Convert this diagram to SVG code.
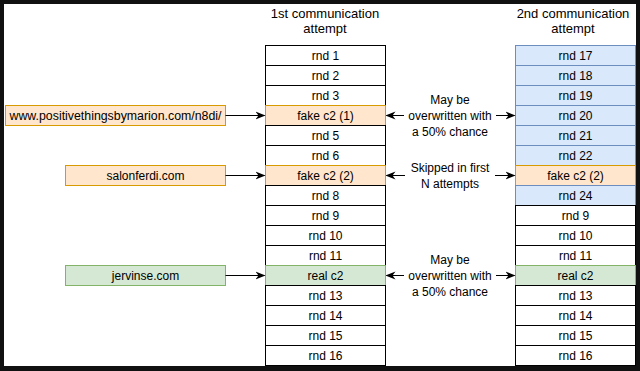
<svg xmlns="http://www.w3.org/2000/svg" width="640" height="371" viewBox="0 0 640 371">
<defs>
<marker id="ah" viewBox="0 0 10 10" refX="9" refY="5" markerWidth="10" markerHeight="10" markerUnits="userSpaceOnUse" orient="auto">
<path d="M0,1 L10,5 L0,9 L3,5 Z" fill="#000"/>
</marker>
<style>
text{font-family:"Liberation Sans",Arial,sans-serif;font-size:12px;fill:#000;text-anchor:middle}
.t{font-size:13px}
.w{fill:#fff;stroke:#000;stroke-width:1}
.o{fill:#ffe6cc;stroke:#d79b00;stroke-width:1}
.g{fill:#d5e8d4;stroke:#82b366;stroke-width:1}
.b{fill:#dae8fc;stroke:#6c8ebf;stroke-width:1}
.c{stroke:#000;stroke-width:1;fill:none;marker-end:url(#ah)}
</style>
</defs>
<rect x="0" y="0" width="640" height="371" fill="#111"/>
<rect x="4" y="4" width="632" height="362" fill="#fff"/>
<g id="titles">
<text class="t" x="325" y="17.5">1st communication</text>
<text class="t" x="325" y="32.5">attempt</text>
<text class="t" x="573" y="17.5">2nd communication</text>
<text class="t" x="573" y="32.5">attempt</text>
</g>
<g id="col1">
<rect class="w" x="265.5" y="45.5" width="120" height="20"/><text x="325.5" y="60">rnd 1</text>
<rect class="w" x="265.5" y="65.5" width="120" height="20"/><text x="325.5" y="80">rnd 2</text>
<rect class="w" x="265.5" y="85.5" width="120" height="20"/><text x="325.5" y="100">rnd 3</text>
<rect class="o" x="265.5" y="105.5" width="120" height="20"/><text x="325.5" y="120">fake c2 (1)</text>
<rect class="w" x="265.5" y="125.5" width="120" height="20"/><text x="325.5" y="140">rnd 5</text>
<rect class="w" x="265.5" y="145.5" width="120" height="20"/><text x="325.5" y="160">rnd 6</text>
<rect class="o" x="265.5" y="165.5" width="120" height="20"/><text x="325.5" y="180">fake c2 (2)</text>
<rect class="w" x="265.5" y="185.5" width="120" height="20"/><text x="325.5" y="200">rnd 8</text>
<rect class="w" x="265.5" y="205.5" width="120" height="20"/><text x="325.5" y="220">rnd 9</text>
<rect class="w" x="265.5" y="225.5" width="120" height="20"/><text x="325.5" y="240">rnd 10</text>
<rect class="w" x="265.5" y="245.5" width="120" height="20"/><text x="325.5" y="260">rnd 11</text>
<rect class="g" x="265.5" y="265.5" width="120" height="20"/><text x="325.5" y="280">real c2</text>
<rect class="w" x="265.5" y="285.5" width="120" height="20"/><text x="325.5" y="300">rnd 13</text>
<rect class="w" x="265.5" y="305.5" width="120" height="20"/><text x="325.5" y="320">rnd 14</text>
<rect class="w" x="265.5" y="325.5" width="120" height="20"/><text x="325.5" y="340">rnd 15</text>
<rect class="w" x="265.5" y="345.5" width="120" height="20"/><text x="325.5" y="360">rnd 16</text>
</g>
<g id="col2">
<rect class="b" x="515.5" y="45.5" width="120" height="20"/><text x="575.5" y="60">rnd 17</text>
<rect class="b" x="515.5" y="65.5" width="120" height="20"/><text x="575.5" y="80">rnd 18</text>
<rect class="b" x="515.5" y="85.5" width="120" height="20"/><text x="575.5" y="100">rnd 19</text>
<rect class="b" x="515.5" y="105.5" width="120" height="20"/><text x="575.5" y="120">rnd 20</text>
<rect class="b" x="515.5" y="125.5" width="120" height="20"/><text x="575.5" y="140">rnd 21</text>
<rect class="b" x="515.5" y="145.5" width="120" height="20"/><text x="575.5" y="160">rnd 22</text>
<rect class="o" x="515.5" y="165.5" width="120" height="20"/><text x="575.5" y="180">fake c2 (2)</text>
<rect class="b" x="515.5" y="185.5" width="120" height="20"/><text x="575.5" y="200">rnd 24</text>
<rect class="w" x="515.5" y="205.5" width="120" height="20"/><text x="575.5" y="220">rnd 9</text>
<rect class="w" x="515.5" y="225.5" width="120" height="20"/><text x="575.5" y="240">rnd 10</text>
<rect class="w" x="515.5" y="245.5" width="120" height="20"/><text x="575.5" y="260">rnd 11</text>
<rect class="g" x="515.5" y="265.5" width="120" height="20"/><text x="575.5" y="280">real c2</text>
<rect class="w" x="515.5" y="285.5" width="120" height="20"/><text x="575.5" y="300">rnd 13</text>
<rect class="w" x="515.5" y="305.5" width="120" height="20"/><text x="575.5" y="320">rnd 14</text>
<rect class="w" x="515.5" y="325.5" width="120" height="20"/><text x="575.5" y="340">rnd 15</text>
<rect class="w" x="515.5" y="345.5" width="120" height="20"/><text x="575.5" y="360">rnd 16</text>
</g>
<g id="src1"><rect class="o" x="5.5" y="105.5" width="220" height="20"/><text x="115.5" y="120" textLength="212" lengthAdjust="spacingAndGlyphs">www.positivethingsbymarion.com/n8di/</text></g>
<g id="src2"><rect class="o" x="65.5" y="165.5" width="160" height="20"/><text x="145.5" y="180">salonferdi.com</text></g>
<g id="src3"><rect class="g" x="65.5" y="265.5" width="160" height="20"/><text x="145.5" y="280">jervinse.com</text></g>
<g id="labels">
<text x="450" y="104">May be</text>
<text x="450" y="120">overwritten with</text>
<text x="450" y="136">a 50% chance</text>
<text x="450" y="172">Skipped in first</text>
<text x="450" y="188">N attempts</text>
<text x="450" y="264">May be</text>
<text x="450" y="280">overwritten with</text>
<text x="450" y="296">a 50% chance</text>
</g>
<g id="connectors">
<line class="c" x1="225.5" y1="115.5" x2="264.5" y2="115.5"/>
<line class="c" x1="225.5" y1="175.5" x2="264.5" y2="175.5"/>
<line class="c" x1="225.5" y1="275.5" x2="264.5" y2="275.5"/>
<line class="c" x1="404" y1="115.5" x2="386.5" y2="115.5"/>
<line class="c" x1="496" y1="115.5" x2="514.5" y2="115.5"/>
<line class="c" x1="405" y1="175.5" x2="386.5" y2="175.5"/>
<line class="c" x1="495" y1="175.5" x2="514.5" y2="175.5"/>
<line class="c" x1="404" y1="275.5" x2="386.5" y2="275.5"/>
<line class="c" x1="496" y1="275.5" x2="514.5" y2="275.5"/>
</g>
</svg>
